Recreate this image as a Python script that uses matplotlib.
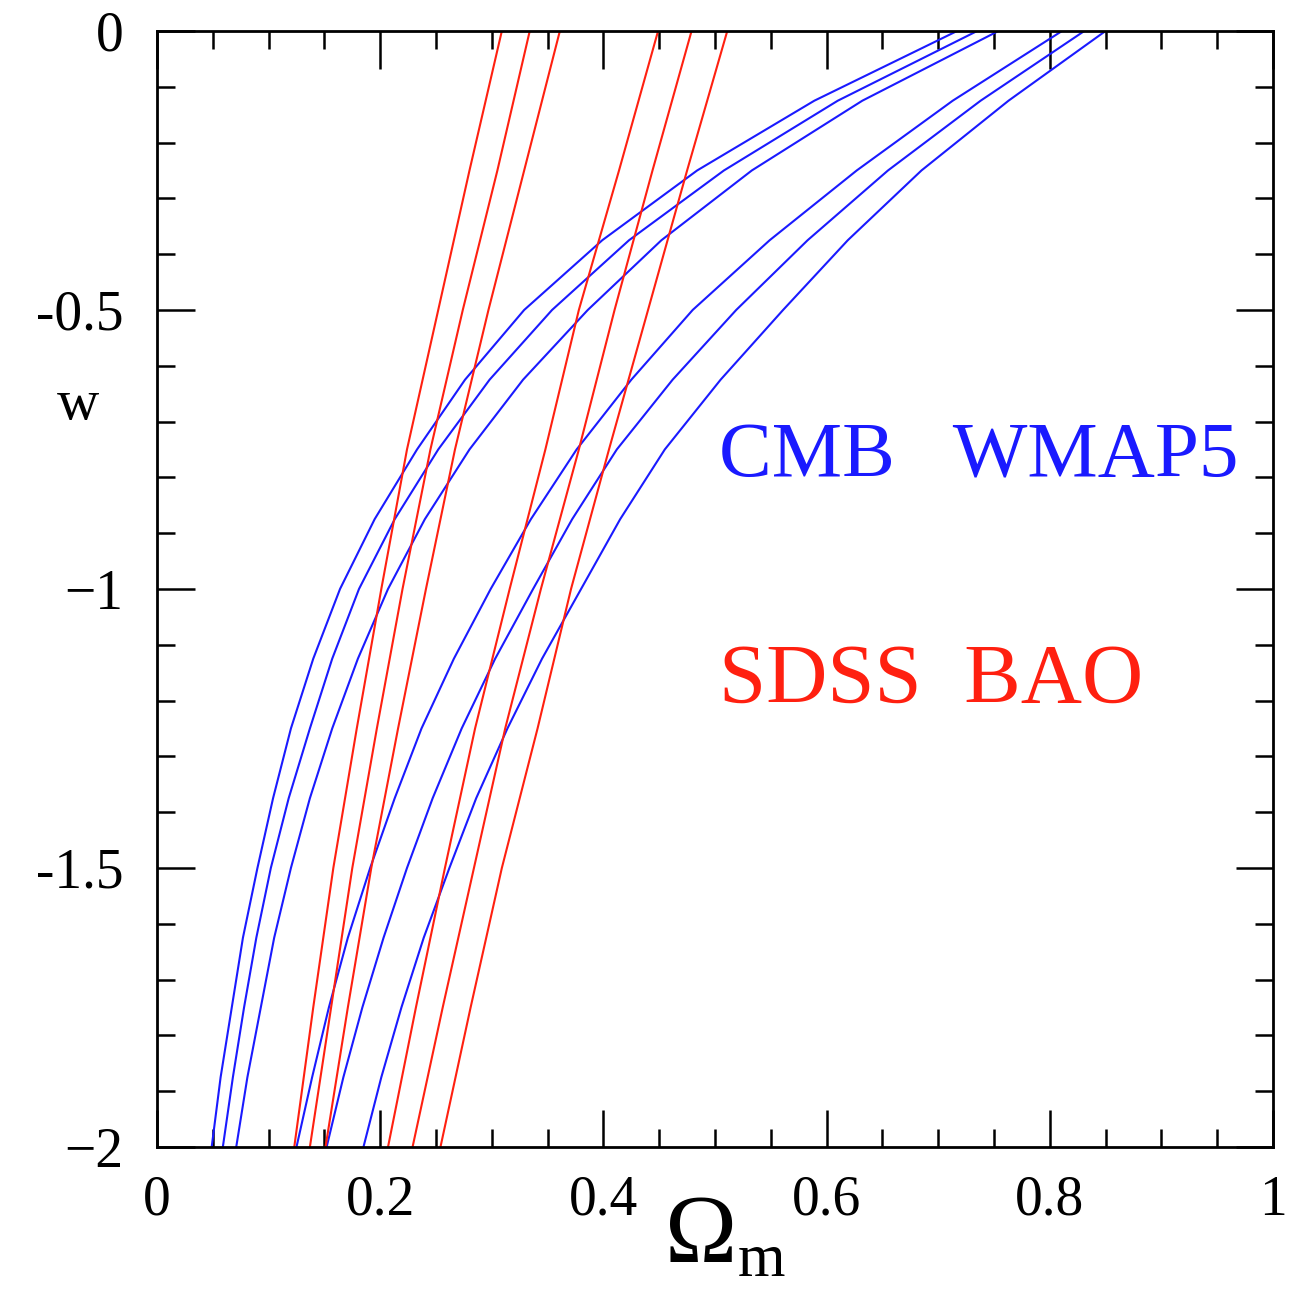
import numpy as np
import matplotlib.pyplot as plt
from matplotlib.ticker import MultipleLocator

# w values the CMB curves were read at (0.125 steps)
w_blue = [0.0, -0.125, -0.25, -0.375, -0.5, -0.625, -0.75, -0.875, -1.0,
          -1.125, -1.25, -1.375, -1.5, -1.625, -1.75, -1.875, -2.0]
# BAO curves are nearly straight, 0.25 steps are enough
w_red = [0.0, -0.25, -0.5, -0.75, -1.0, -1.25, -1.5, -1.75, -2.0]

# CMB WMAP5 curves (Omega_m at each w), two bands of three
cmb_a1 = [0.717, 0.589, 0.484, 0.399, 0.329, 0.276, 0.233, 0.195, 0.164,
          0.140, 0.120, 0.104, 0.090, 0.077, 0.067, 0.057, 0.049]
cmb_a2 = [0.735, 0.610, 0.508, 0.423, 0.354, 0.298, 0.252, 0.213, 0.181,
          0.157, 0.137, 0.118, 0.102, 0.089, 0.078, 0.068, 0.059]
cmb_a3 = [0.754, 0.632, 0.533, 0.452, 0.386, 0.328, 0.280, 0.240, 0.207,
          0.180, 0.157, 0.137, 0.120, 0.105, 0.093, 0.081, 0.071]
cmb_b1 = [0.811, 0.713, 0.627, 0.549, 0.480, 0.425, 0.376, 0.335, 0.299,
          0.266, 0.237, 0.213, 0.191, 0.171, 0.154, 0.139, 0.125]
cmb_b2 = [0.831, 0.738, 0.655, 0.583, 0.519, 0.462, 0.412, 0.372, 0.337,
          0.303, 0.273, 0.247, 0.224, 0.203, 0.184, 0.167, 0.152]
cmb_b3 = [0.850, 0.763, 0.685, 0.619, 0.561, 0.505, 0.455, 0.415, 0.380,
          0.345, 0.314, 0.286, 0.262, 0.239, 0.219, 0.201, 0.185]

# SDSS BAO curves
bao_a1 = [0.309, 0.280, 0.252, 0.224, 0.201, 0.179, 0.158, 0.140, 0.123]
bao_a2 = [0.334, 0.305, 0.274, 0.245, 0.220, 0.197, 0.175, 0.156, 0.137]
bao_a3 = [0.361, 0.329, 0.297, 0.267, 0.241, 0.216, 0.192, 0.171, 0.151]
bao_b1 = [0.449, 0.414, 0.378, 0.348, 0.316, 0.285, 0.258, 0.232, 0.207]
bao_b2 = [0.479, 0.444, 0.410, 0.378, 0.344, 0.312, 0.284, 0.256, 0.229]
bao_b3 = [0.511, 0.475, 0.440, 0.405, 0.371, 0.341, 0.309, 0.281, 0.254]

blue = "#1a1aff"
red = "#ff2010"

plt.rcParams['font.family'] = ['Liberation Serif', 'DejaVu Serif']

fig = plt.figure(figsize=(12.89, 12.95), dpi=100)
ax = fig.add_axes([0.1218, 0.1143, 0.8658, 0.8618])

for om in [cmb_a1, cmb_a2, cmb_a3, cmb_b1, cmb_b2, cmb_b3]:
    ax.plot(om, w_blue, color=blue, lw=1.5)
for om in [bao_a1, bao_a2, bao_a3, bao_b1, bao_b2, bao_b3]:
    ax.plot(om, w_red, color=red, lw=1.5)

ax.set_xlim(0, 1)
ax.set_ylim(-2, 0)

ax.xaxis.set_minor_locator(MultipleLocator(0.05))
ax.yaxis.set_minor_locator(MultipleLocator(0.1))
ax.set_xticks([0, 0.2, 0.4, 0.6, 0.8, 1.0])
ax.set_xticklabels(["0", "0.2", "0.4", "0.6", "0.8", "1"])
ax.set_yticks([0, -0.5, -1, -1.5, -2])
ax.set_yticklabels(["0", "-0.5", "\u22121", "-1.5", "\u22122"])

ax.tick_params(which='both', direction='in', top=True, right=True, width=1.8, color='black')
ax.tick_params(which='major', length=27, labelsize=40, pad=20)
ax.tick_params(which='minor', length=13)
ax.tick_params(axis='y', which='major', pad=24)
for s in ax.spines.values():
    s.set_linewidth(2.0)

# axis labels
ax.text(-0.071, 0.665, "w", transform=ax.transAxes, fontsize=42, ha='center', va='center')
ax.text(0.455, -0.082, "\u03a9", transform=ax.transAxes, fontsize=70,
        ha='left', va='center')
ax.text(0.520, -0.116, "m", transform=ax.transAxes, fontsize=44,
        ha='left', va='baseline')

ax.text(0.504, -0.765, "CMB   WMAP5", color=blue, fontsize=57, ha='left', va='center')
ax.text(0.504, -1.167, "SDSS  BAO", color=red, fontsize=61, ha='left', va='center')

fig.savefig("out.png", dpi=100)
